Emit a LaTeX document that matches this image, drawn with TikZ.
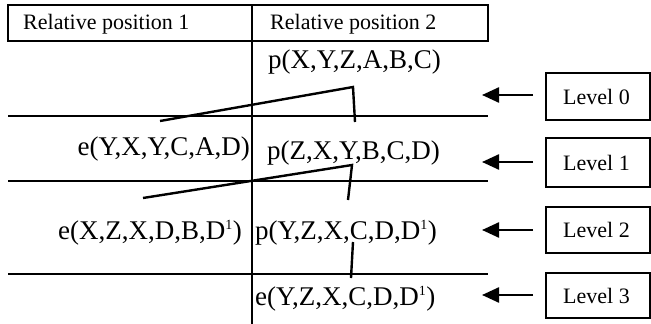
\documentclass[tikz,border=0pt]{standalone}
\usepackage{fontspec}
\setmainfont{Liberation Serif}
\usetikzlibrary{arrows.meta}
\tikzset{
  frame/.style={draw, line width=1.7pt},
  rule/.style={line width=2.2pt},
  zig/.style={line width=2.4pt, line join=miter},
  hdr/.style={inner sep=0pt, font=\fontsize{22}{24}\selectfont},
  term/.style={inner sep=0pt, font=\fontsize{27}{30}\selectfont},
  lvl/.style={inner sep=0pt, font=\fontsize{22}{26}\selectfont},
  pointer/.style={line width=2.4pt, -{Triangle[length=17pt,width=15pt]}},
}
\newcommand{\supone}{\textsuperscript{\fontsize{14}{14}\selectfont 1}}
\begin{document}
\begin{tikzpicture}[x=1pt,y=-1pt]
\useasboundingbox (0,0) rectangle (651,324);
% header
\draw[frame] (8,5) rectangle (488,41);
\draw[frame] (252,5) -- (252,324);
\node[hdr, anchor=base west] (h1) at (23,30) {Relative position 1};
\node[hdr, anchor=base west] (h2) at (270,30) {Relative position 2};
% level rules
\draw[rule] (8,116) -- (488,116);
\draw[rule] (8,181) -- (488,181);
\draw[rule] (8,274) -- (488,274);
% terms
\node[term, anchor=base west] (p0) at (268,68) {p(X,Y,Z,A,B,C)};
\node[term, anchor=base east] (e1) at (250,155) {e(Y,X,Y,C,A,D)};
\node[term, anchor=base west] (p1) at (267,159) {p(Z,X,Y,B,C,D)};
\node[term, anchor=base east] (e2) at (242,239) {e(X,Z,X,D,B,D\supone)};
\node[term, anchor=base west] (p2) at (255,239) {p(Y,Z,X,C,D,D\supone)};
\node[term, anchor=base west] (e3) at (255,305) {e(Y,Z,X,C,D,D\supone)};
% zigzag links
\coordinate (a1) at (160,121);
\coordinate (a2) at (353,87);
\coordinate (a3) at (355,122);
\coordinate (b1) at (143,198);
\coordinate (b2) at (352,165);
\coordinate (b3) at (348,200);
\coordinate (c1) at (353,242);
\coordinate (c2) at (351,278);
\draw[zig] (a1) -- (a2) -- (a3);
\draw[zig] (b1) -- (b2) -- (b3);
\draw[zig] (c1) -- (c2);
% level boxes
\draw[frame] (546,73) rectangle (650,120);
\draw[frame] (546,138) rectangle (650,187);
\draw[frame] (546,207) rectangle (650,253);
\draw[frame] (546,273) rectangle (650,318);
\node[lvl, anchor=west] (l0) at (563,96.5) {Level 0};
\node[lvl, anchor=west] (l1) at (563,162.5) {Level 1};
\node[lvl, anchor=west] (l2) at (563,230) {Level 2};
\node[lvl, anchor=west] (l3) at (563,295.5) {Level 3};
% arrows
\coordinate (s0) at (533,95);  \coordinate (t0) at (482,95);
\coordinate (s1) at (533,162); \coordinate (t1) at (482,162);
\coordinate (s2) at (533,230); \coordinate (t2) at (482,230);
\coordinate (s3) at (533,295); \coordinate (t3) at (482,295);
\draw[pointer] (s0) -- (t0);
\draw[pointer] (s1) -- (t1);
\draw[pointer] (s2) -- (t2);
\draw[pointer] (s3) -- (t3);
\end{tikzpicture}
\end{document}
